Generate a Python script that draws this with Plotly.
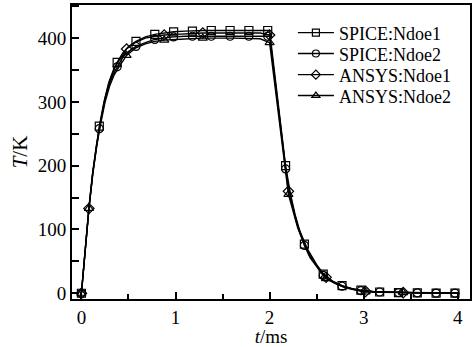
import plotly.graph_objects as go

# ---- marker samples ----
spice_t = [0, 0.19, 0.38, 0.58, 0.78, 0.98, 1.18, 1.38, 1.58, 1.78, 1.98,
           2.17, 2.37, 2.57, 2.77, 2.97, 3.17, 3.37, 3.57, 3.77, 3.97]
spice1_T = [0, 262, 362, 395, 406, 410, 411, 412, 412, 412, 412,
            200, 77, 30, 12, 5, 2, 1, 0.5, 0.3, 0.2]
spice2_T = [0, 258, 355, 387, 398, 402, 403, 403, 403, 403, 403,
            195, 75, 28, 11, 4, 2, 1, 0.5, 0.3, 0.2]

ansys_t = [0, 0.08, 0.48, 0.88, 1.29, 2.0, 2.2, 2.6, 3.02, 3.42]
ansys1_T = [0, 133, 383, 405, 408, 405, 160, 25, 3, 1]
ansys2_T = [0, 133, 373, 397, 400, 393, 155, 23, 2, 1]

# ---- curve points ----
spice_line_t = [0, 0.04, 0.08, 0.12, 0.16, 0.19, 0.24, 0.29, 0.34, 0.38,
                0.44, 0.5, 0.58, 0.68, 0.78, 0.88, 0.98, 1.1, 1.3, 1.6,
                1.98, 2.0, 2.04, 2.08, 2.12, 2.17, 2.22, 2.27, 2.32, 2.37,
                2.43, 2.5, 2.57, 2.67, 2.77, 2.87, 2.97, 3.1, 3.2, 3.4,
                3.6, 3.8, 4.0]
spice1_line = [0, 70, 135, 190, 235, 262, 300, 330, 350, 362,
               377, 387, 395, 402, 406, 408, 410, 411, 412, 412,
               412, 412, 362, 310, 258, 200, 157, 124, 98, 77,
               58, 43, 30, 19, 12, 7.5, 5, 3, 2, 1,
               0.5, 0.3, 0.2]
spice2_line = [0, 68, 133, 187, 232, 258, 296, 325, 344, 355,
               370, 379, 387, 393, 398, 400, 402, 403, 403, 403,
               403, 403, 355, 303, 252, 195, 153, 121, 95, 75,
               56, 41, 28, 18, 11, 7, 4, 2.5, 2, 1,
               0.5, 0.3, 0.2]

ansys_line_t = [0, 0.04, 0.08, 0.12, 0.16, 0.2, 0.25, 0.3, 0.35, 0.4,
                0.48, 0.58, 0.68, 0.78, 0.88, 1.0, 1.29, 1.6, 1.9, 2.0,
                2.05, 2.1, 2.15, 2.2, 2.3, 2.4, 2.5, 2.6, 2.7, 2.8,
                2.9, 3.02, 3.2, 3.42, 3.7, 4.0]
ansys1_line = [0, 68, 133, 188, 232, 266, 305, 333, 352, 365,
               383, 394, 400, 403, 405, 406, 408, 408, 408, 405,
               343, 280, 220, 160, 105, 70, 45, 25, 16, 10,
               6, 3, 2, 1, 0.5, 0.3]
ansys2_line = [0, 67, 133, 186, 229, 262, 299, 325, 343, 355,
               373, 385, 391, 395, 397, 398, 400, 400, 399, 393,
               333, 272, 213, 155, 102, 68, 43, 23, 15, 9,
               5.5, 2, 1.5, 1, 0.5, 0.3]

names = ["SPICE:Ndoe1", "SPICE:Ndoe2", "ANSYS:Ndoe1", "ANSYS:Ndoe2"]
symbols = ["square-open", "circle-open", "diamond-open", "triangle-up-open"]

series = [
    (spice_line_t, spice1_line, spice_t, spice1_T),
    (spice_line_t, spice2_line, spice_t, spice2_T),
    (ansys_line_t, ansys1_line, ansys_t, ansys1_T),
    (ansys_line_t, ansys2_line, ansys_t, ansys2_T),
]

FONT = "Liberation Serif"
fig = go.Figure()
legend_ids = ["legend", "legend2", "legend3", "legend4"]

for i, (lt, lv, mt, mv) in enumerate(series):
    fig.add_trace(go.Scatter(x=lt, y=lv, mode="lines",
                             line=dict(color="black", width=1.4),
                             showlegend=False, hoverinfo="skip"))
for i, (lt, lv, mt, mv) in enumerate(series):
    fig.add_trace(go.Scatter(x=mt, y=mv, mode="markers",
                             marker=dict(symbol=symbols[i], size=8, color="black",
                                         line=dict(color="black", width=1.2)),
                             showlegend=False))
for i in range(4):
    fig.add_trace(go.Scatter(x=[None], y=[None], mode="lines+markers", name=names[i],
                             line=dict(color="black", width=1.4),
                             marker=dict(symbol=symbols[i], size=7, color="black",
                                         line=dict(color="black", width=1.2)),
                             legend=legend_ids[i]))

leg_y = [0.905, 0.834, 0.762, 0.691]
layout_legends = {}
for i, lid in enumerate(legend_ids):
    layout_legends[lid] = dict(x=0.555, y=leg_y[i], xanchor="left", yanchor="middle",
                               bgcolor="rgba(0,0,0,0)", borderwidth=0,
                               font=dict(family=FONT, size=18, color="black"),
                               itemwidth=36, tracegroupgap=0)

axis_common = dict(showline=True, linecolor="black", linewidth=2, mirror=True,
                   showgrid=False, zeroline=False, ticks="inside",
                   tickcolor="black", tickwidth=1.5,
                   tickfont=dict(family=FONT, size=19, color="black"))

fig.update_layout(
    width=474, height=347,
    margin=dict(l=72, r=2, t=5, b=48),
    plot_bgcolor="white", paper_bgcolor="white",
    xaxis=dict(range=[-0.1, 4.13], tickmode="linear", tick0=0, dtick=1, ticklen=7,
               minor=dict(dtick=0.5, ticks="inside", ticklen=5, tickcolor="black", tickwidth=1.5),
               title=dict(text="<i>t</i>/ms", font=dict(family=FONT, size=19, color="black"),
                          standoff=3),
               **axis_common),
    yaxis=dict(range=[-9, 452], tickmode="linear", tick0=0, dtick=100, ticklen=7,
               minor=dict(dtick=50, ticks="inside", ticklen=7, tickcolor="black", tickwidth=1.5),
               title=dict(text="<i>T</i>/K", font=dict(family=FONT, size=21, color="black"),
                          standoff=4),
               **axis_common),
    **layout_legends,
)

fig.write_html("out.html")
